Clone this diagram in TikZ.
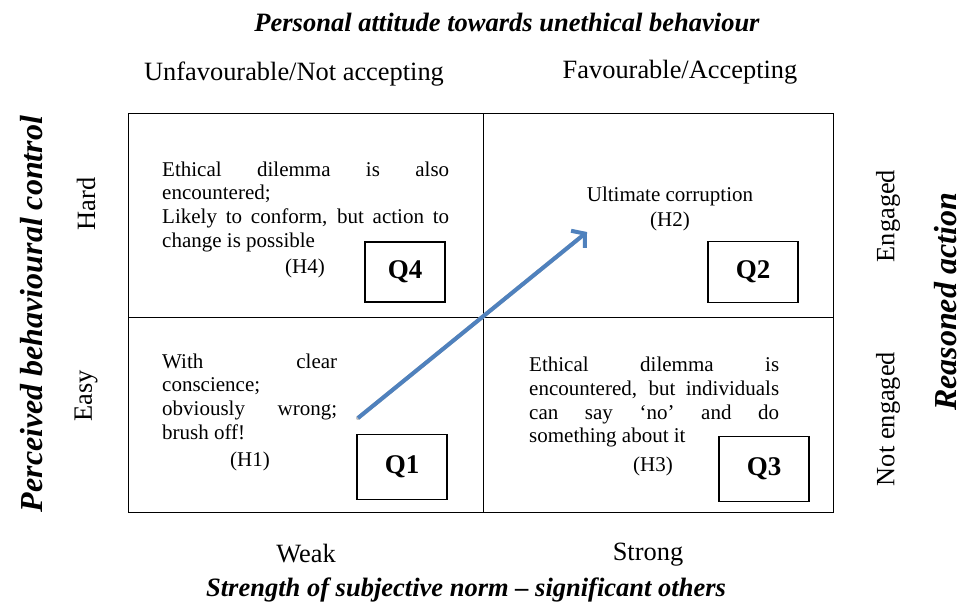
\documentclass[tikz,border=0pt]{standalone}
\usepackage{fontspec}
\setmainfont{Liberation Serif}
\usetikzlibrary{arrows.meta,calc}
\definecolor{arrowblue}{RGB}{79,129,189}
\newcommand\jline[2]{\hbox{\makebox[#1][s]{#2}}}
\newcommand\pline[1]{\hbox{#1}}
\begin{document}
\begin{tikzpicture}[x=1pt,y=-1pt,
  cell/.style={draw=black,line width=1.3pt,minimum width=#1,anchor=north west,inner sep=0pt},
  qbox/.style={draw=black,line width=1.4pt,minimum width=90pt,minimum height=61pt,inner sep=0pt,font=\fontsize{27}{30}\selectfont\bfseries},
  body/.style={inner sep=0pt,anchor=base west,font=\fontsize{21}{23.8}\selectfont},
  hyp/.style={inner sep=0pt,anchor=base,font=\fontsize{21}{24}\selectfont},
  axis/.style={inner sep=0pt,font=\fontsize{26.4}{30}\selectfont},
  side/.style={inner sep=0pt,font=\fontsize{26.4}{30}\selectfont,rotate=90},
  heading/.style={inner sep=0pt,font=\fontsize{26.5}{30}\selectfont\bfseries\itshape},
  vheading/.style={inner sep=0pt,anchor=base,font=\fontsize{32}{36}\selectfont\bfseries\itshape,rotate=90},
  trend/.style={draw=arrowblue,line width=4pt,-{Straight Barb[length=9pt,width=22pt]}}
]
\useasboundingbox (0,0) rectangle (964,606);
% grid cells
\node[cell=355pt,minimum height=204pt] (c4) at (128,113) {};
\node[cell=350pt,minimum height=204pt] (c2) at (483,113) {};
\node[cell=355pt,minimum height=195pt] (c1) at (128,317) {};
\node[cell=350pt,minimum height=195pt] (c3) at (483,317) {};
% quadrant labels
\node[qbox,minimum width=80pt,minimum height=60pt] (q4) at (405,272) {Q4};
\node[qbox] (q2) at (753,272) {Q2};
\node[qbox,minimum height=65pt] (q1) at (402,467) {Q1};
\node[qbox,minimum height=65pt] (q3) at (764,469) {Q3};
% quadrant texts
\node[body] (t4) at (162,176) {\vtop{\jline{287pt}{Ethical dilemma is also}\pline{encountered;}\jline{287pt}{Likely to conform, but action to}\pline{change is possible}}};
\node[hyp] (h4) at (305,273) {(H4)};
\node[hyp] (t2) at (670,201.5) {Ultimate corruption};
\node[hyp] (h2) at (670,226.5) {(H2)};
\node[body] (t1) at (162,368) {\vtop{\jline{175pt}{With clear}\pline{conscience;}\jline{175pt}{obviously wrong;}\pline{brush off!}}};
\node[hyp] (h1) at (250,466.5) {(H1)};
\node[body] (t3) at (529,371.5) {\vtop{\jline{250pt}{Ethical dilemma is}\jline{250pt}{encountered, but individuals}\jline{250pt}{can say ‘no’ and do}\pline{something about it}}};
\node[hyp] (h3) at (653,471.5) {(H3)};
% axis labels
\node[heading] (top) at (507,22) {Personal attitude towards unethical behaviour};
\node[axis] (unfav) at (294,74) {Unfavourable/Not accepting};
\node[axis] (fav) at (680,72) {Favourable/Accepting};
\node[axis] (weak) at (306,554) {Weak};
\node[axis] (strong) at (648,555) {Strong};
\node[heading] (bottom) at (466,590) {Strength of subjective norm – significant others};
\node[vheading] (left) at (42,314) {Perceived behavioural control};
\node[side] (hard) at (86,204) {Hard};
\node[side] (easy) at (86,396) {Easy};
\node[side] (eng) at (888,216) {Engaged};
\node[side] (noteng) at (888,419) {Not engaged};
\node[vheading] (right) at (956,302) {Reasoned action};
% arrow
\coordinate (a0) at (358,418);
\coordinate (a1) at (587,232);
\draw[black!25,line width=4pt,line cap=round,shift={(1.5pt,-2pt)}] (a0) -- ($(a0)!0.97!(a1)$);
\draw[trend] (a0) -- (a1);
\end{tikzpicture}
\end{document}
